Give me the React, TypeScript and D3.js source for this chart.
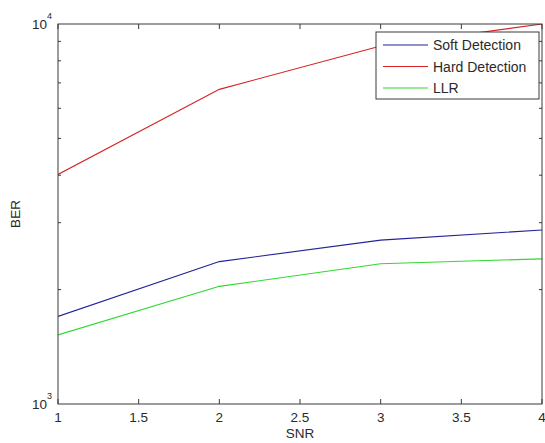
import React from 'react';
import * as d3 from 'd3';

// SNR values on the x axis
const snr = [1, 2, 3, 4];
// BER per detection method
const softBer = [1700, 2370, 2700, 2870];
const hardBer = [4020, 6730, 8750, 10000];
const llrBer = [1520, 2040, 2340, 2410];

const xTicks = [1, 1.5, 2, 2.5, 3, 3.5, 4];
const yMajor = [1000, 10000];
const yMinor = [2000, 3000, 4000, 5000, 6000, 7000, 8000, 9000];

const seriesNames = ['Soft Detection', 'Hard Detection', 'LLR'];
const seriesColors = ['#23239a', '#d42424', '#2fd92f'];

const W = 545;
const H = 443;
const margin = { top: 24, right: 3, bottom: 39, left: 58 };
const axisColor = '#3a3a3a';
const textColor = '#2a2a2a';
const font = 'Liberation Sans, Arial, sans-serif';

export default function App() {
  const x = d3.scaleLinear().domain([1, 4]).range([margin.left, W - margin.right]);
  const y = d3.scaleLog().domain([1000, 10000]).range([H - margin.bottom, margin.top]);
  const x0 = x.range()[0];
  const x1 = x.range()[1];
  const yb = y.range()[0];
  const yt = y.range()[1];

  const line = d3.line<number>()
    .x((_, i) => x(snr[i]))
    .y((d) => y(d));

  const allSeries = [softBer, hardBer, llrBer];

  const legendX = 376;
  const legendY = 32;
  const legendW = 163;
  const legendH = 67;

  return (
    <svg
      width={W}
      height={H}
      style={{ position: 'absolute', left: 0, top: 0, background: '#fff' }}
      fontFamily={font}
    >
      <rect x={0} y={0} width={W} height={H} fill="#fff" />
      <defs>
        <clipPath id="plot">
          <rect x={x0} y={yt} width={x1 - x0} height={yb - yt} />
        </clipPath>
      </defs>

      {/* data lines */}
      <g clipPath="url(#plot)">
        {allSeries.map((s, i) => (
          <path key={i} d={line(s) || ''} fill="none" stroke={seriesColors[i]} strokeWidth={1.1} />
        ))}
      </g>

      {/* axes box */}
      <rect x={x0} y={yt} width={x1 - x0} height={yb - yt} fill="none" stroke={axisColor} strokeWidth={1} />

      {/* x ticks top and bottom */}
      {xTicks.map((t) => (
        <g key={'xt' + t}>
          <line x1={x(t)} x2={x(t)} y1={yb} y2={yb - 5} stroke={axisColor} />
          <line x1={x(t)} x2={x(t)} y1={yt} y2={yt + 5} stroke={axisColor} />
          <text x={x(t)} y={yb + 18} textAnchor="middle" fontSize={13.5} fill={textColor}>
            {t}
          </text>
        </g>
      ))}

      {/* y minor ticks left and right */}
      {yMinor.map((t) => (
        <g key={'ym' + t}>
          <line x1={x0} x2={x0 + 3} y1={y(t)} y2={y(t)} stroke={axisColor} />
          <line x1={x1} x2={x1 - 3} y1={y(t)} y2={y(t)} stroke={axisColor} />
        </g>
      ))}

      {/* y major labels */}
      {yMajor.map((t) => (
        <text key={'yl' + t} x={x0 - 26} y={y(t) + 5} fontSize={13.5} fill={textColor}>
          10
          <tspan dy={-10} fontSize={9}>
            {Math.round(Math.log10(t))}
          </tspan>
        </text>
      ))}

      {/* axis labels */}
      <text x={(x0 + x1) / 2} y={438} textAnchor="middle" fontSize={13.5} fill={textColor}>
        SNR
      </text>
      <text
        transform={`translate(20, ${(yt + yb) / 2}) rotate(-90)`}
        textAnchor="middle"
        fontSize={13.5}
        fill={textColor}
      >
        BER
      </text>

      {/* legend */}
      <rect x={legendX} y={legendY} width={legendW} height={legendH} fill="#fff" stroke={axisColor} />
      {seriesNames.map((name, i) => {
        const ly = legendY + 13 + i * 21.5;
        return (
          <g key={name}>
            <line x1={legendX + 7} x2={legendX + 52} y1={ly} y2={ly} stroke={seriesColors[i]} strokeWidth={1.1} />
            <text x={legendX + 57} y={ly + 5} fontSize={14} fill={textColor}>
              {name}
            </text>
          </g>
        );
      })}
    </svg>
  );
}
